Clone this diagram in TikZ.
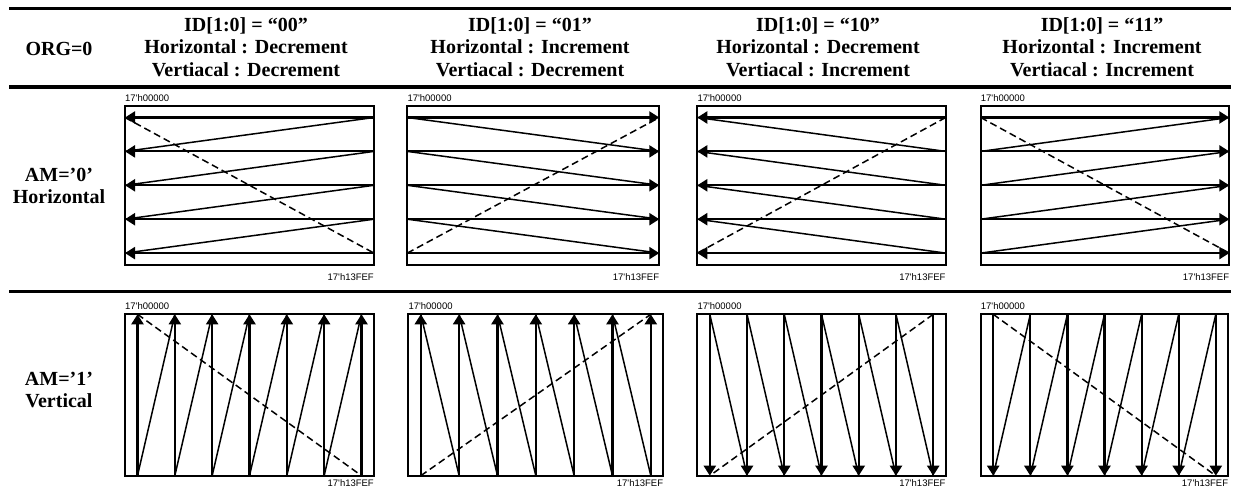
\documentclass[tikz,border=0pt]{standalone}
\usepackage{fontspec}
\setmainfont{Liberation Serif}
\newfontfamily\arialf{Liberation Sans}
\usetikzlibrary{arrows.meta}
\tikzset{
  panelbox/.style={draw, line width=1.8pt},
  scanline/.style={line width=2.2pt, -{Triangle[length=10pt,width=12pt]}},
  retrace/.style={line width=1.5pt},
  diagdash/.style={line width=1.5pt, dash pattern=on 7pt off 4pt},
  hdr/.style={font=\fontsize{20}{22.5}\selectfont\bfseries, align=center, inner sep=0pt},
  addr/.style={font=\arialf\fontsize{9.5}{11}\selectfont, inner sep=0pt},
  tablerule/.style={line width=#1},
}
\begin{document}
\begin{tikzpicture}[x=1pt,y=-1pt]
\useasboundingbox (0,0) rectangle (1239,497);
% table rules
\coordinate (r1a) at (9,8.3);   \coordinate (r1b) at (1231,8.3);
\coordinate (r2a) at (9,87.2);  \coordinate (r2b) at (1231,87.2);
\coordinate (r3a) at (9,291.3); \coordinate (r3b) at (1231,291.3);
\draw[tablerule=2.5pt] (r1a) -- (r1b);
\draw[tablerule=3.5pt] (r2a) -- (r2b);
\draw[tablerule=2.5pt] (r3a) -- (r3b);
% header texts
\node[hdr] (org) at (59,48.5) {ORG=0};
\node[hdr] (h1) at (246,47) {ID[1:0] = “00”\\Horizontal : Decrement\\Vertiacal : Decrement};
\node[hdr] (h2) at (530,47) {ID[1:0] = “01”\\Horizontal : Increment\\Vertiacal : Decrement};
\node[hdr] (h3) at (818,47) {ID[1:0] = “10”\\Horizontal : Decrement\\Vertiacal : Increment};
\node[hdr] (h4) at (1102,47) {ID[1:0] = “11”\\Horizontal : Increment\\Vertiacal : Increment};
\node[hdr] (am0) at (59,186) {AM=’0’\\Horizontal};
\node[hdr] (am1) at (59,390) {AM=’1’\\Vertical};
% ---------- row 1 : horizontal scanning ----------
\foreach \p/\L/\R in {a/125/374, b/407.3/659.3, c/697.3/945.7, d/980.7/1229.3}{
  \coordinate (\p-tl) at (\L,105.7);
  \coordinate (\p-br) at (\R,265);
  \foreach \k in {0,...,4}{
    \coordinate (\p-l\k) at (\L,{117.5+33.9*\k});
    \coordinate (\p-r\k) at (\R,{117.5+33.9*\k});
  }
  \draw[panelbox] (\p-tl) rectangle (\p-br);
  \node[addr, anchor=base west] (\p-start) at (\L,101.5) {17'h00000};
  \node[addr, anchor=base east] (\p-end) at (\R,280.5) {17'h13FEF};
}
% panel a
\foreach \k in {0,...,4} \draw[scanline] (a-r\k) -- (a-l\k);
\foreach \k/\n in {0/1,1/2,2/3,3/4} \draw[retrace] (a-l\n) -- (a-r\k);
\draw[diagdash] (a-l0) -- (a-r4);
% panel b
\foreach \k in {0,...,4} \draw[scanline] (b-l\k) -- (b-r\k);
\foreach \k/\n in {0/1,1/2,2/3,3/4} \draw[retrace] (b-l\k) -- (b-r\n);
\draw[diagdash] (b-l4) -- (b-r0);
% panel c
\foreach \k in {0,...,4} \draw[scanline] (c-r\k) -- (c-l\k);
\foreach \k/\n in {0/1,1/2,2/3,3/4} \draw[retrace] (c-l\k) -- (c-r\n);
\draw[diagdash] (c-r0) -- (c-l4);
% panel d
\foreach \k in {0,...,4} \draw[scanline] (d-l\k) -- (d-r\k);
\foreach \k/\n in {0/1,1/2,2/3,3/4} \draw[retrace] (d-l\n) -- (d-r\k);
\draw[diagdash] (d-l0) -- (d-r4);
% ---------- row 2 : vertical scanning ----------
\foreach \p/\L/\R in {e/125/374, f/408.3/663.3, g/697.3/945.7, h/980.7/1228.3}{
  \coordinate (\p-tl) at (\L,314.3);
  \coordinate (\p-br) at (\R,475.7);
  \foreach \k in {0,...,6}{
    \coordinate (\p-t\k) at ({\L+12.5+(\R-\L-25)/6*\k},314.3);
    \coordinate (\p-b\k) at ({\L+12.5+(\R-\L-25)/6*\k},475.7);
  }
  \draw[panelbox] (\p-tl) rectangle (\p-br);
  \node[addr, anchor=base west] (\p-start) at (\L,309.5) {17'h00000};
  \node[addr, anchor=base east] (\p-end) at (\R,486) {17'h13FEF};
}
% panel e
\foreach \k in {0,...,6} \draw[scanline] (e-b\k) -- (e-t\k);
\foreach \k/\n in {0/1,1/2,2/3,3/4,4/5,5/6} \draw[retrace] (e-b\k) -- (e-t\n);
\draw[diagdash] (e-t0) -- (e-b6);
% panel f
\foreach \k in {0,...,6} \draw[scanline] (f-b\k) -- (f-t\k);
\foreach \k/\n in {0/1,1/2,2/3,3/4,4/5,5/6} \draw[retrace] (f-t\k) -- (f-b\n);
\draw[diagdash] (f-b0) -- (f-t6);
% panel g
\foreach \k in {0,...,6} \draw[scanline] (g-t\k) -- (g-b\k);
\foreach \k/\n in {0/1,1/2,2/3,3/4,4/5,5/6} \draw[retrace] (g-t\k) -- (g-b\n);
\draw[diagdash] (g-t6) -- (g-b0);
% panel h
\foreach \k in {0,...,6} \draw[scanline] (h-t\k) -- (h-b\k);
\foreach \k/\n in {0/1,1/2,2/3,3/4,4/5,5/6} \draw[retrace] (h-b\k) -- (h-t\n);
\draw[diagdash] (h-t0) -- (h-b6);
\end{tikzpicture}
\end{document}
